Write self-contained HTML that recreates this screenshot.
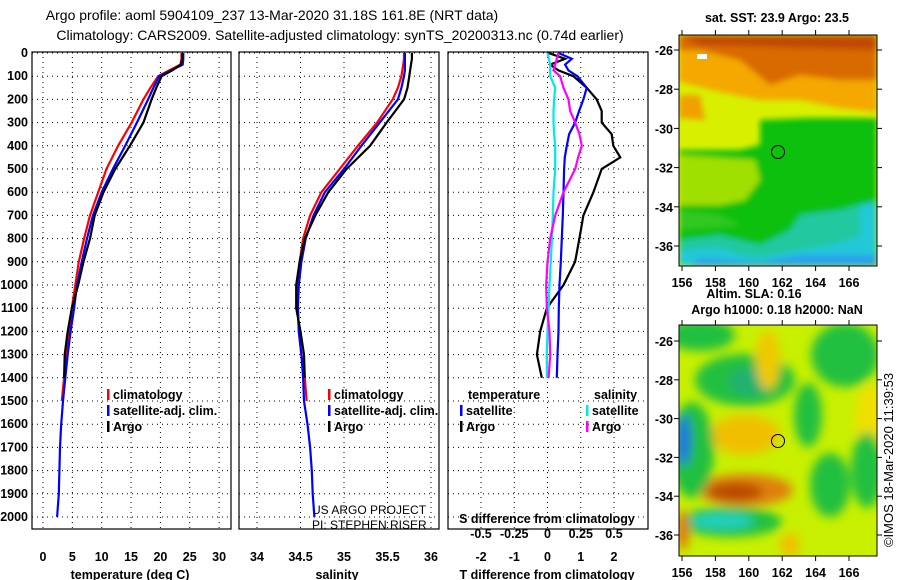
<!DOCTYPE html>
<html><head><meta charset="utf-8"><style>
html,body{margin:0;padding:0;background:#fff;}
svg{display:block;font-family:"Liberation Sans",sans-serif;}
.b{font-weight:bold;font-size:12.5px;}
</style></head><body>
<svg id="fig" width="900" height="580" viewBox="0 0 900 580" xmlns="http://www.w3.org/2000/svg">
<defs>
<filter id="blur6" x="-20%" y="-20%" width="140%" height="140%"><feGaussianBlur stdDeviation="5"/></filter>
<filter id="blur3"><feGaussianBlur stdDeviation="3"/></filter>
<clipPath id="clipTop"><rect x="679" y="35" width="198" height="231"/></clipPath>
<clipPath id="clipBot"><rect x="679" y="325" width="198" height="231"/></clipPath>
</defs>
<text x="272" y="20" text-anchor="middle" font-size="14">Argo profile: aoml 5904109_237 13-Mar-2020 31.18S 161.8E (NRT data)</text>
<text x="340" y="40" text-anchor="middle" font-size="14">Climatology: CARS2009. Satellite-adjusted climatology: synTS_20200313.nc (0.74d earlier)</text>

<g id="mapTop" clip-path="url(#clipTop)">
<rect x="679" y="35" width="198" height="231" fill="#d8f000"/>
<g filter="url(#blur3)">
<polygon points="679,35 877,35 877,112 840,108 800,100 760,100 720,92 679,82" fill="#f4a800"/>
<polygon points="679,35 877,35 877,80 840,80 800,75 770,85 740,60 700,50 679,50" fill="#d86a00"/>
<polygon points="679,35 877,35 877,50 700,45" fill="#c04800"/>
<polygon points="679,95 700,95 705,120 679,118" fill="#f0a000"/>
<polygon points="679,150 740,150 760,145 760,120 810,118 877,118 877,266 679,266" fill="#10c010"/>
<polygon points="679,155 755,160 760,180 745,200 720,205 679,205" fill="#a0e000"/>
<polygon points="679,210 720,215 740,225 679,230" fill="#30c820"/>
<polygon points="679,240 720,235 760,245 790,230 800,215 840,210 877,200 877,266 679,266" fill="#20c8a0"/>
<polygon points="679,250 720,248 740,255 760,258 800,250 830,245 877,232 877,266 679,266" fill="#20c8d8"/>
<rect x="860" y="205" width="17" height="61" fill="#20c8d8"/>
<polygon points="700,258 760,262 800,255 877,255 877,266 690,266" fill="#2aa0f0"/>
</g>
<rect x="697" y="54" width="10" height="5" fill="#fff"/>
</g>
<rect x="679" y="35" width="198" height="231" fill="none" stroke="#000"/>
<circle cx="778" cy="152" r="6.5" fill="none" stroke="#000"/>

<g id="mapBot" clip-path="url(#clipBot)">
<rect x="679" y="325" width="198" height="231" fill="#c8f000"/>
<g filter="url(#blur6)">
<ellipse cx="700" cy="335" rx="35" ry="16" fill="#20c040"/>
<ellipse cx="745" cy="380" rx="50" ry="26" fill="#20c040"/>
<ellipse cx="752" cy="382" rx="24" ry="14" fill="#20b070"/>
<ellipse cx="845" cy="355" rx="34" ry="32" fill="#20c040"/>
<ellipse cx="870" cy="420" rx="15" ry="35" fill="#f0e000"/>
<ellipse cx="768" cy="360" rx="12" ry="30" fill="#f0c800"/>
<ellipse cx="745" cy="435" rx="35" ry="20" fill="#f0c000"/>
<ellipse cx="745" cy="490" rx="48" ry="16" fill="#e08010"/>
<ellipse cx="735" cy="492" rx="28" ry="9" fill="#b84800"/>
<ellipse cx="730" cy="522" rx="52" ry="15" fill="#20c040"/>
<ellipse cx="722" cy="521" rx="32" ry="8" fill="#20d0c0"/>
<ellipse cx="692" cy="450" rx="22" ry="48" fill="#20c040"/>
<ellipse cx="684" cy="440" rx="7" ry="26" fill="#2070e0"/>
<ellipse cx="808" cy="415" rx="14" ry="32" fill="#20c040"/>
<ellipse cx="830" cy="485" rx="20" ry="32" fill="#20c040"/>
<ellipse cx="867" cy="470" rx="16" ry="38" fill="#20c040"/>
<ellipse cx="790" cy="545" rx="10" ry="12" fill="#f0c000"/>
<ellipse cx="683" cy="530" rx="6" ry="20" fill="#e07010"/>
</g>
</g>
<rect x="679" y="325" width="198" height="231" fill="none" stroke="#000"/>
<circle cx="778" cy="441" r="6.5" fill="none" stroke="#000"/>

<text x="777" y="22" text-anchor="middle" class="b">sat. SST: 23.9 Argo: 23.5</text>
<text x="754" y="298" text-anchor="middle" class="b">Altim. SLA: 0.16</text>
<text x="777" y="314" text-anchor="middle" class="b">Argo h1000: 0.18 h2000: NaN</text>
<text transform="translate(893,460) rotate(-90)" text-anchor="middle" font-size="13">©IMOS 18-Mar-2020 11:39:53</text>
<text x="312" y="514" font-size="12">US ARGO PROJECT</text>
<text x="312" y="529" font-size="12">PI: STEPHEN RISER</text>
</svg>
<script>
// ---- data ----
const depthLevels = [0,25,50,75,100,150,200,300,400,500,600,700,800,900,1000,1100,1200,1300,1400,1500,1600,1700,1800,1900,2000];
const depthTicks = [0,100,200,300,400,500,600,700,800,900,1000,1100,1200,1300,1400,1500,1600,1700,1800,1900,2000];
// temperature (deg C)
const tempClim = [23.6,23.6,23.4,21.5,19.6,18.3,17.1,15.1,12.8,10.8,9.4,8.0,7.0,6.1,5.5,4.9,4.5,4.0,3.6,3.2];
const tempSat  = [23.9,23.9,23.8,21.8,19.8,18.8,17.9,16.0,14.0,11.9,10.0,8.5,7.5,6.6,5.8,5.3,4.7,4.2,3.8,3.4,3.1,2.9,2.8,2.7,2.4];
const tempArgo = [23.7,23.7,23.5,22.0,20.2,19.3,18.5,17.1,14.8,12.3,10.3,8.8,8.0,6.9,6.0,4.9,4.2,3.7,3.6];
const tempTicks = [0,5,10,15,20,25,30];
// salinity
const salClim = [35.69,35.69,35.68,35.67,35.66,35.62,35.56,35.38,35.16,34.95,34.74,34.61,34.53,34.49,34.47,34.47,34.48,34.51,34.55,34.57];
const salSat  = [35.70,35.70,35.70,35.70,35.69,35.66,35.62,35.41,35.20,35.00,34.78,34.65,34.56,34.51,34.48,34.47,34.48,34.51,34.53,34.54,34.58,34.61,34.63,34.64,34.66];
const salArgo = [35.78,35.78,35.77,35.76,35.75,35.73,35.69,35.49,35.30,35.03,34.82,34.67,34.55,34.49,34.45,34.45,34.50,34.54,34.55];
const salTicks = [34,34.5,35,35.5,36];
// differences
const diffDepths = [0,25,50,75,100,150,200,250,300,350,400,450,500,600,700,800,900,1000,1100,1200,1300,1400];
const dTSat  = [0.33,0.73,0.53,0.63,0.9,1.18,1.08,0.95,0.83,0.65,0.58,0.52,0.5,0.48,0.46,0.43,0.4,0.36,0.34,0.33,0.3,0.28];
const dTArgo = [0.03,0.53,0.08,0.33,0.78,1.18,1.48,1.63,1.63,1.93,1.98,2.19,1.63,1.38,1.08,0.96,0.83,0.48,-0.02,-0.22,-0.32,-0.17];
const dSSat  = [0.0,0.01,0.02,0.02,0.02,0.058,0.05,0.045,0.045,0.05,0.058,0.058,0.058,0.045,0.04,0.033,0.025,0.015,0.008,0.0,-0.005,-0.005];
const dSArgo = [0.083,0.07,0.058,0.045,0.095,0.12,0.158,0.17,0.208,0.24,0.258,0.23,0.208,0.12,0.058,0.02,0.0,-0.01,-0.005,0.015,0.02,0.008];
const dTTicks = [-2,-1,0,1,2];
const dSTicks = [-0.5,-0.25,0,0.25,0.5];
const dSTickLabels = ['-0.5','-0.25','0','0.25','0.5'];
const latTicks = [-26,-28,-30,-32,-34,-36];
const lonTicks = [156,158,160,162,164,166];

// ---- scales ----
const yD = d => 53 + d*0.232;
const xT = t => 43 + t*5.87;
const xS = s => 257 + (s-34)*87;
const xDT = t => 547.5 + t*33.25;
const xDS = s => xDT(s*4);
const yLatTop = l => 50 + (-26 - l)*19.6;
const yLatBot = l => 341 + (-26 - l)*19.4;
const xLon = l => 682 + (l-156)*16.7;

const NS='http://www.w3.org/2000/svg';
const svg=document.getElementById('fig');
function mk(tag,attrs,parent){const e=document.createElementNS(NS,tag);for(const k in attrs)e.setAttribute(k,attrs[k]);(parent||svg).appendChild(e);return e;}
function txt(x,y,s,anchor,cls){const e=mk('text',{x:x,y:y,'text-anchor':anchor||'middle','class':cls||'b'});e.textContent=s;return e;}

function panel(name,x0,x1,xTicks,xf,labels,xtitle,xtitleX){
  const g=mk('g',{});
  
  
  depthTicks.forEach(d=>{
    const l=mk('line',{x1:x0,x2:x1,y1:yD(d),y2:yD(d),stroke:'#000','stroke-width':1,'stroke-dasharray':'1,4'},g);
    
    
  });
  xTicks.forEach((t,i)=>{
    const l=mk('line',{x1:xf(t),x2:xf(t),y1:52,y2:529,stroke:'#000','stroke-width':1,'stroke-dasharray':'1,4'},g);
    
    
    const tl=txt(xf(t),561,labels[i]);
    
    
  });
  const r=mk('rect',{x:x0,y:52,width:x1-x0,height:477,fill:'none',stroke:'#000','stroke-width':1.2},g);
  
  
  const tt=txt(xtitleX,579,xtitle);
  
  
}
function series(name,depths,vals,xf,color){
  const pts=vals.map((v,i)=>xf(v).toFixed(1)+','+yD(depths[i]).toFixed(1)).join(' ');
  const p=mk('polyline',{points:pts,fill:'none',stroke:color,'stroke-width':2.2,'stroke-linejoin':'miter'});
  
  
}
function legendEntry(x,y,color,label){
  const r=mk('rect',{x:x,y:y-10,width:2.5,height:11,fill:color});
  
  
  const t=txt(x+6,y,label,'start');
  
  
}

panel('temperature',32,231,tempTicks,xT,tempTicks.map(String),'temperature (deg C)',130);
panel('salinity',239,439,salTicks,xS,salTicks.map(String),'salinity',337);
panel('difference',448,648,dTTicks,xDT,dTTicks.map(String),'T difference from climatology',547);

depthTicks.forEach(d=>{
  const t=txt(28,yD(d)+4,String(d),'end');
  
  
});

series('temp-climatology-line',depthLevels,tempClim,xT,'#ff0000');
series('temp-satellite-line',depthLevels,tempSat,xT,'#0000ff');
series('temp-argo-line',depthLevels,tempArgo,xT,'#000000');
series('sal-climatology-line',depthLevels,salClim,xS,'#ff0000');
series('sal-satellite-line',depthLevels,salSat,xS,'#0000ff');
series('sal-argo-line',depthLevels,salArgo,xS,'#000000');
series('dT-argo-line',diffDepths,dTArgo,xDT,'#000000');
series('dT-satellite-line',diffDepths,dTSat,xDT,'#0000ff');
series('dS-satellite-line',diffDepths,dSSat,xDS,'#00e8e8');
series('dS-argo-line',diffDepths,dSArgo,xDS,'#ff00ff');

legendEntry(107,399,'#ff0000','climatology');
legendEntry(107,415,'#0000ff','satellite-adj. clim.');
legendEntry(107,431,'#000000','Argo');
legendEntry(328,399,'#ff0000','climatology');
legendEntry(328,415,'#0000ff','satellite-adj. clim.');
legendEntry(328,431,'#000000','Argo');
let h=txt(468,399,'temperature','start');


h=txt(594,399,'salinity','start');


legendEntry(460,415,'#0000ff','satellite');
legendEntry(460,431,'#000000','Argo');
legendEntry(586,415,'#00e8e8','satellite');
legendEntry(586,431,'#ff00ff','Argo');

h=txt(547,523,'S difference from climatology');


dSTicks.forEach((s,i)=>{
  const t=txt(xDS(s),538,dSTickLabels[i]);
  
  
});

// map axes
[[yLatTop,35,266,287],[yLatBot,325,556,577]].forEach(([yf,top,bot,ly])=>{
  latTicks.forEach(l=>{
    const t=txt(673,yf(l)+5,String(l),'end');
    
    
    const k=mk('line',{x1:674,x2:679,y1:yf(l),y2:yf(l),stroke:'#000'});
    
    
    const k2=mk('line',{x1:877,x2:882,y1:yf(l),y2:yf(l),stroke:'#000'});
    
    
  });
  lonTicks.forEach(l=>{
    const t=txt(xLon(l),ly,String(l));
    
    
    const k=mk('line',{x1:xLon(l),x2:xLon(l),y1:bot,y2:bot+5,stroke:'#000'});
    
    
    const k2=mk('line',{x1:xLon(l),x2:xLon(l),y1:top-5,y2:top,stroke:'#000'});
    
    
  });
});
</script>
</body></html>
